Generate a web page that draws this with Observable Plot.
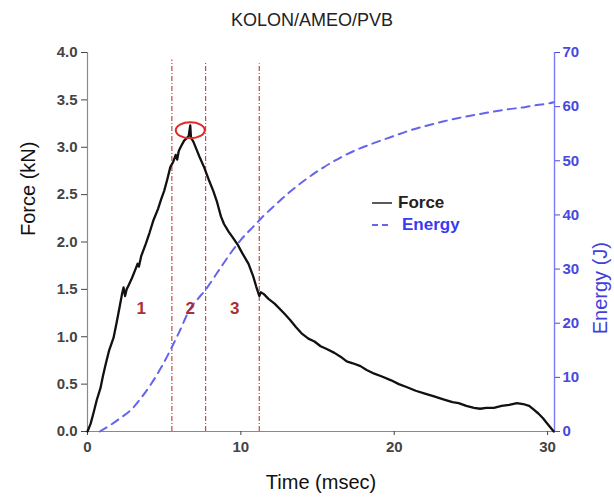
<!DOCTYPE html>
<html><head><meta charset="utf-8">
<script src="https://cdn.jsdelivr.net/npm/d3@7"></script>
<script src="https://cdn.jsdelivr.net/npm/@observablehq/plot@0.6"></script>
<style>
body{margin:0;background:#fff;font-family:"Liberation Sans",Arial,sans-serif;}
#wrap{position:relative;width:614px;height:500px;overflow:hidden;}
#title{height:38px;line-height:40px;text-align:center;font-size:18px;color:#222;padding-left:10px;box-sizing:border-box;}
#legend{position:absolute;left:372px;top:192px;font-weight:bold;font-size:17px;}
#legend .row{display:flex;align-items:center;height:22px;}
</style></head><body>
<div id="wrap">
<div id="title">KOLON/AMEO/PVB</div>
<div id="chart"></div>
<div id="legend">
  <div class="row"><svg width="26" height="6"><line x1="0" x2="20" y1="3" y2="3" stroke="#333" stroke-width="1.6"/></svg><span style="color:#222">Force</span></div>
  <div class="row"><svg width="30" height="6"><line x1="0" x2="20" y1="3" y2="3" stroke="#6464ec" stroke-width="2" stroke-dasharray="6,4"/></svg><span style="color:#3a3af0">Energy</span></div>
</div>
</div>
<script>
// ---- data ----
const forceTime = [0,0.2,0.4,0.6,0.85,1.0,1.2,1.4,1.7,1.9,2.1,2.25,2.35,2.45,2.55,2.7,2.9,3.1,3.27,3.35,3.5,3.8,4.05,4.3,4.6,4.8,5.0,5.2,5.4,5.6,5.75,5.85,5.95,6.1,6.3,6.5,6.6,6.7,6.75,6.9,7.1,7.3,7.6,7.9,8.2,8.45,8.7,8.9,9.2,9.5,9.8,10.1,10.5,10.8,11.0,11.2,11.3,11.5,11.8,12.2,12.8,13.2,13.6,14.0,14.4,14.8,15.2,15.6,16.1,16.5,16.9,17.3,17.8,18.2,18.7,19.2,19.8,20.3,20.8,21.4,22.0,22.6,23.2,23.8,24.2,24.7,25.2,25.6,26.0,26.5,27.0,27.5,28.0,28.4,28.8,29.1,29.4,29.7,30.0,30.2,30.4];
const forceValues = [0,0.08,0.2,0.33,0.46,0.58,0.72,0.85,0.99,1.15,1.32,1.45,1.52,1.43,1.5,1.55,1.62,1.7,1.77,1.74,1.85,1.98,2.1,2.23,2.35,2.45,2.54,2.66,2.79,2.85,2.92,2.87,2.96,3.01,3.07,3.1,3.12,3.23,3.1,3.06,2.98,2.9,2.79,2.66,2.54,2.42,2.27,2.19,2.11,2.04,1.97,1.88,1.77,1.64,1.53,1.43,1.47,1.45,1.4,1.35,1.25,1.18,1.1,1.03,0.98,0.95,0.9,0.87,0.83,0.79,0.74,0.72,0.69,0.65,0.61,0.58,0.54,0.5,0.47,0.43,0.4,0.37,0.34,0.31,0.3,0.27,0.25,0.24,0.25,0.25,0.27,0.28,0.3,0.29,0.27,0.23,0.19,0.14,0.08,0.04,0];
const energyTime = [0.8,1.5,2.2,2.8,3.5,4.2,4.8,5.4,6.0,6.7,7.2,7.7,8.5,9.5,10.0,10.8,11.3,12.3,13.3,14.3,15.4,16.5,17.6,18.7,19.8,20.9,22.0,23.1,24.2,25.3,26.3,27.4,28.5,29.3,30.1,30.4];
const energyValues = [0,1.2,2.6,3.9,6.2,9,11.8,15,18.5,22.7,24.5,26.2,29.5,33.6,35.4,37.8,39.3,42.0,44.5,46.7,48.8,50.6,52.1,53.3,54.4,55.5,56.4,57.2,57.9,58.5,59.0,59.5,59.9,60.3,60.6,60.8];
const splitTimes = [5.5, 7.7, 11.2];
const splitTops = [3.92, 3.9, 3.88];
const regionLabels = ["1","2","3"];
const regionTimes = [3.5, 6.7, 9.6];
const regionForce = [1.3, 1.3, 1.3];
const peakTime = [6.7];
const peakForce = [3.18];
const forceTicks = [0,0.5,1,1.5,2,2.5,3,3.5,4];
const energyTicks = [0,10,20,30,40,50,60,70];
const timeTicks = [0,10,20,30];
const xMax = 30.45;

// ---- build ----
const E2F = 4/70;
const forceData = forceTime.map((t,i)=>({t, f: forceValues[i]}));
const energyData = energyTime.map((t,i)=>({t, e: energyValues[i]}));
const splits = splitTimes.map((t,i)=>({t, top: splitTops[i]}));
const regions = regionLabels.map((s,i)=>({s, t: regionTimes[i], f: regionForce[i]}));
const peak = peakTime.map((t,i)=>({t, f: peakForce[i]}));

const ellipse = {draw(ctx){
  const rx=14.5, ry=8, k=0.5523;
  ctx.moveTo(rx,0);
  ctx.bezierCurveTo(rx,ry*k,rx*k,ry,0,ry);
  ctx.bezierCurveTo(-rx*k,ry,-rx,ry*k,-rx,0);
  ctx.bezierCurveTo(-rx,-ry*k,-rx*k,-ry,0,-ry);
  ctx.bezierCurveTo(rx*k,-ry,rx,-ry*k,rx,0);
  ctx.closePath();
}};

const font = '"Liberation Sans", Arial, sans-serif';
const chart = Plot.plot({
  width: 614, height: 462,
  marginTop: 14, marginBottom: 69, marginLeft: 87, marginRight: 60,
  x: {domain: [0, xMax]},
  y: {domain: [0, 4]},
  style: {fontFamily: font, background: "white"},
  marks: [
    Plot.ruleX(splits, {x: "t", y1: 0, y2: "top", stroke: "#c84848", strokeWidth: 1.2, strokeDasharray: "5,2,1,2"}),
    Plot.ruleX([0], {stroke: "#8a8a8a", strokeWidth: 1.2}),
    Plot.ruleY([0], {stroke: "#8a8a8a", strokeWidth: 1.2}),
    Plot.ruleX([xMax], {stroke: "#7a7af2", strokeWidth: 1.4}),
    Plot.axisY({ticks: forceTicks, tickFormat: d => d.toFixed(1), tickSize: 6, tickPadding: 4, fontSize: 15, fontWeight: "bold", color: "#444", label: null}),
    Plot.axisY({anchor: "right", ticks: energyTicks.map(e => e*E2F), tickFormat: d => Math.round(d/E2F), tickSize: 5, tickPadding: 3, fontSize: 15, fontWeight: "bold", color: "#4848e0", label: null}),
    Plot.axisX({ticks: timeTicks, tickSize: 4, tickPadding: 6, fontSize: 15, fontWeight: "bold", color: "#444", label: null}),
    Plot.line(energyData, {x: "t", y: d => d.e*E2F, stroke: "#6464ec", strokeWidth: 2, strokeDasharray: "8,6", curve: "monotone-x"}),
    Plot.line(forceData, {x: "t", y: "f", stroke: "#111", strokeWidth: 2.3}),
    Plot.dot(peak, {x: "t", y: "f", symbol: ellipse, stroke: "#e02828", strokeWidth: 2, fill: "none"}),
    Plot.text(regions, {x: "t", y: "f", text: "s", fill: "#a83232", fontSize: 17, fontWeight: "bold"}),
    Plot.text(["Force (kN)"], {frameAnchor: "left", rotate: -90, dx: -59, dy: -6, fontSize: 20, fill: "#111"}),
    Plot.text(["Energy (J)"], {frameAnchor: "right", rotate: -90, dx: 46, fontSize: 20, fill: "#4040dd"}),
    Plot.text(["Time (msec)"], {frameAnchor: "bottom", dy: 57, fontSize: 20, fill: "#111"})
  ]
});
document.getElementById("chart").appendChild(chart);
</script>
</body></html>
